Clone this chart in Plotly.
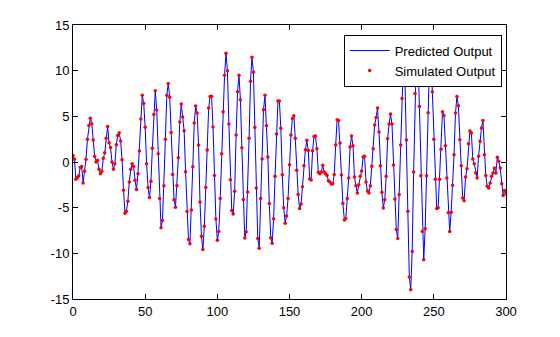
import plotly.graph_objects as go

# Simulated system response, one sample per time step (0..300)
seg_a = [0.7, 0.3, -1.9, -1.7, -1.5, -0.6, -0.5, -2.3, -1.0, 0.3, 2.5, 4.0, 4.8, 4.2, 2.4, 0.6, 0.0, 0.2,
         -0.8, -1.3, -1.0, 0.4, 1.0, 2.6, 3.9, 2.1, 1.6, 0.0, -0.8, -0.2, 1.9, 2.9, 3.2]
seg_b = [2.3, 0.25, -3.1, -5.6, -5.4, -4.3, -2.2, -0.8, -0.2, -0.5, -2.0, -3.0, -1.3, 1.2, 4.7, 7.3, 6.4,
         3.8, -0.2, -2.8, -3.9, -2.1, 1.5, 5.2, 7.8, 5.7, 0.9, -4.0, -7.2, -6.4, -2.6, 2.5, 7.3, 8.6]
seg_c = [7.1, 3.24, -1.38, -4.12, -4.95, -2.59, 0.47, 4.37, 6.34, 4.92, 3.42, -1.06, -5.43, -8.49, -8.96,
         -5.25, -0.51, 4.26, 6.12, 5.36, 1.86, -4.37, -8.12, -9.58, -7.03, -2.78, 1.31, 5.9, 7.18, 7.21,
         3.83, -1.49, -6.23]
seg_d = [-8.56, -7.61, -4.0, 0.9, 5.5, 9.5, 11.9, 9.98, 4.15, -1.93, -5.32, -5.68, -3.21, 2.96, 7.69, 9.51,
         6.81, 1.57, -4.11, -8.31, -7.65, -3.28, 2.59, 8.85, 11.48, 9.84, 3.79, -2.84, -8.38, -9.44, -4.01,
         0.33, 5.72, 7.32, 3.97]
seg_e = [0.55, -4.55, -8.3, -8.9, -6.2, -1.57, 3.06, 6.67, 6.67, 3.7, -1.4, -5.0, -6.7, -5.9, -4.0, -0.3,
         2.95, 4.77, 5.06, 2.6, -0.9, -3.57, -5.1, -4.6, -2.7, -0.4, 1.35, 2.37, 1.27, -1.86, -1.97, 1.24, 2.8]
seg_f = [2.84, 1.46, -1.13, -1.28, -1.09, -0.36, -1.09, -1.3, -1.49, -2.04, -2.2, -2.4, -2.37, -1.38, 1.86,
         4.63, 4.55, 2.08, -1.42, -4.55, -6.34, -6.19, -4.0, -1.75, 1.64, 2.84, 1.79, -1.64, -2.59, -3.39,
         -2.5, -1.57, -0.98, 0.55, 0.62]
seg_g = [-2.19, -3.17, -3.39, -2.59, -0.47, 1.46, 4.04, 4.88, 5.9, 3.28, -0.4, -3.32, -5.03, -4.12, -1.57,
         2.55, 4.15, 5.25, 4.15, -0.33]
seg_h = [-4.04, -7.4, -8.38, -3.57, 1.86, 6.96, 11.5, 8.8, 2.4, -5.4, -12.6, -14.0, -9.8, -1.1, 7.5, 12.3,
         11.5, 6.08, -1.5, -7.6, -10.7, -7.3, -1.5, 5.4, 11.0, 11.8, 7.68, 2.5, -1.9, -5.1, -5.0, -1.9, 1.4,
         5.5, 5.1]
seg_i = [1.79, -1.75, -5.57, -7.6, -5.5, -2.55, 0.8, 5.36, 7.18, 6.16, 2.44, -0.4]
seg_j = [-3.93, -4.23, -1.64, -0.73, 2.0, 3.39, 3.17, 0.33, -0.18, -1.2, -1.75, 0.62, 2.26, 3.72, 4.55, 0.8,
         -1.49, -2.66, -2.84, -2.3, -1.57, -1.2, -0.66, -1.2, 0.51, 0.07, -0.66, -2.37, -3.68, -3.13, -3.5]

simulated_output = seg_a + seg_b + seg_c + seg_d + seg_e + seg_f + seg_g + seg_h + seg_i + seg_j
# The model's prediction tracks the simulated samples
predicted_output = simulated_output
time_steps = list(range(len(simulated_output)))

x_ticks = [0, 50, 100, 150, 200, 250, 300]
y_ticks = [-15, -10, -5, 0, 5, 10, 15]
x_tick_text = ["0", "50", "100", "150", "200", "250", "300"]
y_tick_text = ["-15", "-10", "-5", "0", "5", "10", "15"]

font_family = "Liberation Sans, Arial, Helvetica, sans-serif"

fig = go.Figure()
fig.add_trace(go.Scatter(
    x=time_steps, y=predicted_output, mode="lines", name="Predicted Output",
    line=dict(color="#0000ff", width=1),
))
fig.add_trace(go.Scatter(
    x=time_steps, y=simulated_output, mode="markers", name="Simulated Output",
    marker=dict(color="#ff0000", size=3.5, line=dict(width=0)),
))

axis_common = dict(
    showgrid=False, zeroline=False, showline=True, linecolor="black", linewidth=1,
    mirror="ticks", ticks="inside", ticklen=5, tickcolor="black", tickwidth=1,
    tickfont=dict(family=font_family, size=13, color="black"),
)
fig.update_xaxes(range=[0, 300], tickvals=x_ticks, ticktext=x_tick_text, **axis_common)
fig.update_yaxes(range=[-15, 15], tickvals=y_ticks, ticktext=y_tick_text, **axis_common)

fig.update_layout(
    width=560, height=337,
    margin=dict(l=73, r=54, t=25, b=38),
    paper_bgcolor="white", plot_bgcolor="white",
    font=dict(family=font_family, size=13, color="black"),
    showlegend=True,
    legend=dict(
        x=0.99, y=0.965, xanchor="right", yanchor="top",
        bgcolor="white", bordercolor="black", borderwidth=1,
        font=dict(family=font_family, size=13, color="black"),
        tracegroupgap=0, itemwidth=40,
    ),
)

fig.write_html("out.html")
